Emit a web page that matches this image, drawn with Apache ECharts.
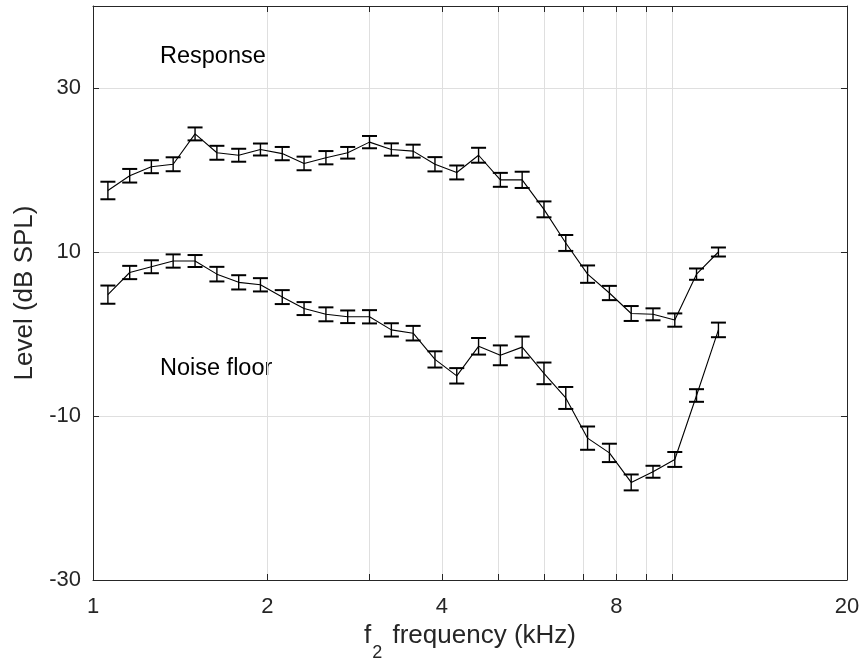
<!DOCTYPE html>
<html lang="en">
<head>
<meta charset="UTF-8">
<title>Response and noise floor</title>
<style>
html, body { margin: 0; padding: 0; background: #fff; }
#main { width: 861px; height: 666px; }
</style>
</head>
<body>
<div id="main"></div>

<script src="https://cdn.jsdelivr.net/npm/echarts@6/dist/echarts.min.js"></script>
<script>
// f2 frequencies, kHz (1/8 octave steps)
var freqs = [1.061, 1.157, 1.261, 1.375, 1.5, 1.636, 1.784, 1.945, 2.121, 2.313,
             2.523, 2.751, 3.0, 3.272, 3.568, 3.891, 4.243, 4.627, 5.045, 5.502,
             6.0, 6.543, 7.135, 7.781, 8.485, 9.253, 10.09, 11.0, 12.0];

var respMean = [17.5, 19.3, 20.4, 20.7, 24.4, 22.1, 21.8, 22.5, 22.0, 20.8,
                21.5, 22.1, 23.4, 22.5, 22.3, 20.7, 19.7, 21.8, 18.8, 18.8,
                15.2, 11.1, 7.3, 5.0, 2.5, 2.4, 1.7, 7.3, 10.0];
var respErr = [1.07, 0.83, 0.79, 0.85, 0.79, 0.85, 0.79, 0.73, 0.81, 0.83,
               0.81, 0.71, 0.75, 0.75, 0.79, 0.87, 0.85, 0.91, 0.85, 0.99,
               0.97, 0.97, 1.06, 0.87, 0.91, 0.73, 0.81, 0.69, 0.55];

var noiseMean = [4.8, 7.5, 8.2, 8.9, 8.9, 7.3, 6.3, 6.0, 4.5, 3.1,
                 2.4, 2.1, 2.1, 0.5, 0.1, -3.1, -5.1, -1.5, -2.6, -1.6,
                 -4.8, -7.8, -12.7, -14.5, -18.1, -16.8, -15.3, -7.5, 0.5];
var noiseErr = [1.11, 0.81, 0.79, 0.81, 0.73, 0.89, 0.87, 0.81, 0.85, 0.79,
                0.85, 0.77, 0.81, 0.81, 0.89, 0.99, 0.94, 1.01, 1.21, 1.29,
                1.32, 1.34, 1.42, 1.12, 0.97, 0.73, 0.91, 0.77, 0.89];

var xLabels = [1, 2, 4, 8, 20];
var xGrid = [1, 2, 3, 4, 5, 6, 7, 8, 9, 10, 20];
var yLabels = [-30, -10, 10, 30];

var ink = '#262626';
var gridCol = '#dfdfdf';
var font = 'Liberation Sans';

function pairs(m) {
    return freqs.map(function (f, i) { return [f, m[i]]; });
}
function bars(m, e) {
    return freqs.map(function (f, i) { return [f, m[i] - e[i], m[i] + e[i]]; });
}

function renderBar(params, api) {
    var lo = api.coord([api.value(0), api.value(1)]);
    var hi = api.coord([api.value(0), api.value(2)]);
    var w = 7.5;
    var st = { stroke: '#000', lineWidth: 1.4 };
    var cap = { stroke: '#000', lineWidth: 2 };
    return {
        type: 'group',
        children: [
            { type: 'line', shape: { x1: lo[0], y1: lo[1], x2: hi[0], y2: hi[1] }, style: st },
            { type: 'line', shape: { x1: lo[0] - w, y1: lo[1], x2: lo[0] + w, y2: lo[1] }, style: cap },
            { type: 'line', shape: { x1: hi[0] - w, y1: hi[1], x2: hi[0] + w, y2: hi[1] }, style: cap }
        ]
    };
}

var myChart = echarts.init(document.getElementById('main'), null, { renderer: 'canvas' });

var xCommon = {
    type: 'log',
    logBase: 10,
    min: 1,
    max: 20,
    axisLine: { show: true, onZero: false, lineStyle: { color: ink, width: 1 } },
    axisTick: { show: true, inside: true, length: 6, customValues: xGrid, lineStyle: { color: ink } },
    minorTick: { show: false },
    minorSplitLine: { show: false }
};

var yCommon = {
    type: 'value',
    min: -30,
    max: 40,
    interval: 20,
    axisLine: { show: true, onZero: false, lineStyle: { color: ink, width: 1 } },
    axisTick: { show: true, inside: true, length: 6, customValues: yLabels, lineStyle: { color: ink } }
};

option = {
    backgroundColor: '#fff',
    animation: false,
    grid: {
        left: 93,
        right: 14,
        top: 6,
        bottom: 86,
        outerBoundsMode: 'none'
    },
    xAxis: [
        echarts.util.merge({
            position: 'bottom',
            name: '{a|f}{s|2}{a| frequency (kHz)}',
            nameLocation: 'middle',
            nameGap: 40,
            nameTextStyle: {
                rich: {
                    a: { fontFamily: font, fontSize: 26, color: ink, lineHeight: 30, verticalAlign: 'top' },
                    s: { fontFamily: font, fontSize: 18, color: ink, lineHeight: 20, verticalAlign: 'top', padding: [21, 3, 0, 1] }
                }
            },
            axisLabel: {
                show: true,
                customValues: xLabels,
                margin: 16,
                color: ink,
                fontFamily: font,
                fontSize: 22,
                formatter: function (v) { return String(Math.round(v)); }
            },
            splitLine: { show: true, lineStyle: { color: gridCol, width: 1 } }
        }, xCommon, false),
        echarts.util.merge({
            position: 'top',
            axisLabel: { show: false },
            splitLine: { show: false }
        }, xCommon, false)
    ],
    yAxis: [
        echarts.util.merge({
            position: 'left',
            name: 'Level (dB SPL)',
            nameLocation: 'middle',
            nameGap: 54,
            nameTextStyle: { fontFamily: font, fontSize: 26, color: ink },
            axisLabel: {
                customValues: yLabels,
                margin: 12,
                color: ink,
                fontFamily: font,
                fontSize: 22
            },
            splitLine: { show: true, lineStyle: { color: gridCol, width: 1 } }
        }, yCommon, false),
        echarts.util.merge({
            position: 'right',
            axisLabel: { show: false },
            splitLine: { show: false }
        }, yCommon, false)
    ],
    graphic: [
        { type: 'text', left: 160, top: 45, style: { text: 'Response', fontFamily: font, fontSize: 23.5, fill: '#000' } },
        { type: 'text', left: 160, top: 357, style: { text: 'Noise floor', fontFamily: font, fontSize: 23.5, fill: '#000' } }
    ],
    series: [
        {
            name: 'Response',
            type: 'line',
            data: pairs(respMean),
            symbol: 'none',
            lineStyle: { color: '#000', width: 1.1 },
            z: 3
        },
        {
            name: 'Response err',
            type: 'custom',
            data: bars(respMean, respErr),
            renderItem: renderBar,
            encode: { x: 0, y: [1, 2] },
            z: 4
        },
        {
            name: 'Noise floor',
            type: 'line',
            data: pairs(noiseMean),
            symbol: 'none',
            lineStyle: { color: '#000', width: 1.1 },
            z: 3
        },
        {
            name: 'Noise err',
            type: 'custom',
            data: bars(noiseMean, noiseErr),
            renderItem: renderBar,
            encode: { x: 0, y: [1, 2] },
            z: 4
        }
    ]
};

myChart.setOption(option);
</script>
</body>
</html>
